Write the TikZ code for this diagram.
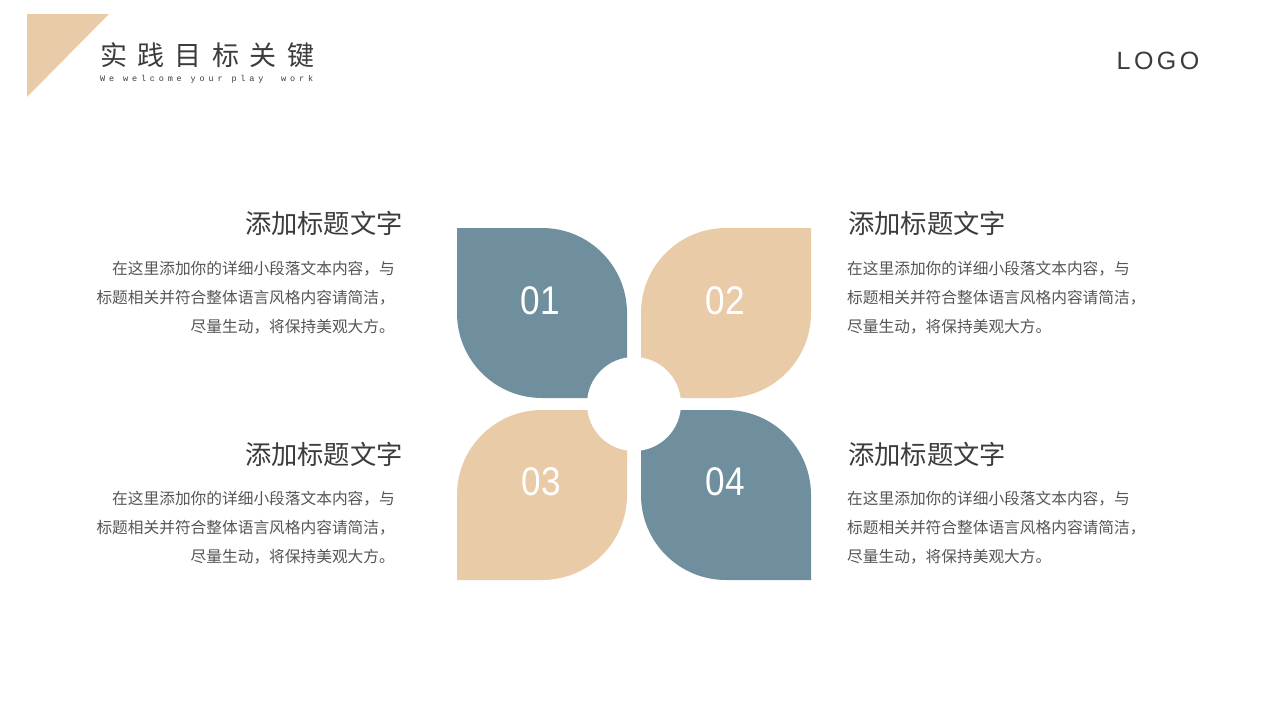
\documentclass[tikz,border=0pt]{standalone}
\usepackage{fontspec}
\setmainfont{Liberation Sans}
\newfontfamily\cjk{Noto Sans CJK SC}
\newfontfamily\monofnt[LetterSpace=45]{Liberation Mono}
\newfontfamily\logofnt[LetterSpace=14]{Liberation Sans}
\definecolor{petalblue}{HTML}{6F8F9E}
\definecolor{petalbeige}{HTML}{E9CBA7}
\definecolor{titlegray}{HTML}{3C3C3C}
\definecolor{bodygray}{HTML}{555555}
\newcommand\petalTL[3]{%
  \fill[#3] (#1,#2) -- ({#1+85},#2) .. controls ({#1+132},#2) and ({#1+170},{#2+38}) .. ({#1+170},{#2+85})
    -- ({#1+170},{#2+170}) -- ({#1+85},{#2+170}) .. controls ({#1+38},{#2+170}) and (#1,{#2+132}) .. (#1,{#2+85}) -- cycle;}
\newcommand\petalTR[3]{%
  \fill[#3] ({#1+170},#2) -- ({#1+85},#2) .. controls ({#1+38},#2) and (#1,{#2+38}) .. (#1,{#2+85})
    -- (#1,{#2+170}) -- ({#1+85},{#2+170}) .. controls ({#1+132},{#2+170}) and ({#1+170},{#2+132}) .. ({#1+170},{#2+85}) -- cycle;}
\newcommand\numtext[1]{\scalebox{0.88}[1]{#1}}
\tikzset{
  num/.style={text=white, inner sep=0pt, font=\fontsize{40}{42}\selectfont},
  headtitle/.style={text=titlegray, inner sep=0pt, font=\cjk\fontsize{26.3}{30}\selectfont},
  bodytext/.style={text=bodygray, inner sep=0pt, font=\cjk\fontsize{15.7}{29}\selectfont},
}
\begin{document}
\begin{tikzpicture}[x=1pt,y=-1pt]
\useasboundingbox (0,0) rectangle (1280,720);
\fill[white] (0,0) rectangle (1280,720);
% header
\fill[petalbeige] (27,14) -- (109,14) -- (27,97) -- cycle;
\node[anchor=west, inner sep=0pt, text=titlegray, font=\cjk\fontsize{27}{30}\selectfont] (title) at (100,55)
  {实\hspace{10.4pt}践\hspace{10.4pt}目\hspace{10.4pt}标\hspace{10.4pt}关\hspace{10.4pt}键};
\node[anchor=west, inner sep=0pt, text=titlegray, font=\monofnt\fontsize{8.5}{10}\selectfont] (sub) at (100,79)
  {We welcome your play\ \ work};
\node[inner sep=0pt, text=titlegray, font=\logofnt\fontsize{25}{28}\selectfont] (logo) at (1158,61) {LOGO};
% petals
\petalTL{457}{228}{petalblue}
\petalTR{641}{228}{petalbeige}
\petalTR{457}{410}{petalbeige}
\petalTL{641}{410}{petalblue}
\fill[white] (634,404) circle (47pt);
\node[num] (n1) at (540,301) {\numtext{01}};
\node[num] (n2) at (725,301) {\numtext{02}};
\node[num] (n3) at (541,482) {\numtext{03}};
\node[num] (n4) at (725,482) {\numtext{04}};
% text blocks
\node[headtitle, anchor=east] (t1) at (403,223) {添加标题文字};
\node[bodytext, anchor=north east, align=right] (b1) at (395,261)
  {在这里添加你的详细小段落文本内容，与\\标题相关并符合整体语言风格内容请简洁，\\尽量生动，将保持美观大方。};
\node[headtitle, anchor=west] (t2) at (848,223) {添加标题文字};
\node[bodytext, anchor=north west, align=left] (b2) at (847,261)
  {在这里添加你的详细小段落文本内容，与\\标题相关并符合整体语言风格内容请简洁，\\尽量生动，将保持美观大方。};
\node[headtitle, anchor=east] (t3) at (403,454) {添加标题文字};
\node[bodytext, anchor=north east, align=right] (b3) at (395,491)
  {在这里添加你的详细小段落文本内容，与\\标题相关并符合整体语言风格内容请简洁，\\尽量生动，将保持美观大方。};
\node[headtitle, anchor=west] (t4) at (848,454) {添加标题文字};
\node[bodytext, anchor=north west, align=left] (b4) at (847,491)
  {在这里添加你的详细小段落文本内容，与\\标题相关并符合整体语言风格内容请简洁，\\尽量生动，将保持美观大方。};
\end{tikzpicture}
\end{document}
